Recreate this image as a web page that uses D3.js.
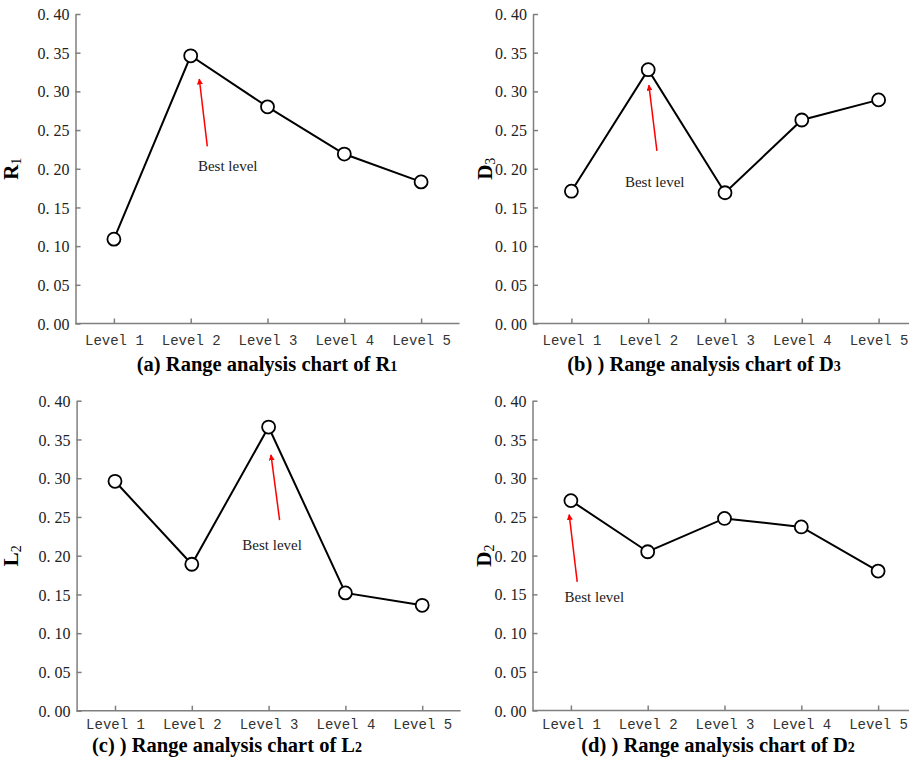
<!DOCTYPE html>
<html>
<head>
<meta charset="utf-8">
<script src="https://cdn.jsdelivr.net/npm/d3@7"></script>
<style>
  body { margin: 0; background: #fff; }
  svg { display: block; }
</style>
</head>
<body>
<svg id="chart" width="909" height="761"></svg>
<script>
// Data
const levels = ["Level 1", "Level 2", "Level 3", "Level 4", "Level 5"];
const yTicks = [0, 0.05, 0.10, 0.15, 0.20, 0.25, 0.30, 0.35, 0.40];
const r1Values = [0.109, 0.346, 0.280, 0.219, 0.183];
const d3Values = [0.171, 0.328, 0.169, 0.263, 0.289];
const l2Values = [0.296, 0.189, 0.366, 0.152, 0.136];
const d2Values = [0.271, 0.205, 0.248, 0.237, 0.180];

// best level annotation: arrow tip/tail and label in data units (level, value)
const bestLevel = [
  { level: "Level 2", tip: [8.6, 0.316], tail: [16.6, 0.229], label: [37, 0.197] },
  { level: "Level 2", tip: [0.7, 0.308], tail: [8.7, 0.223], label: [6.5, 0.176] },
  { level: "Level 3", tip: [2.4, 0.330], tail: [11, 0.246], label: [3.5, 0.207] },
  { level: "Level 1", tip: [-1.7, 0.253], tail: [6.3, 0.166], label: [23.5, 0.140] }
];

// panel layout (pixel boxes)
const panels = [
  { values: r1Values, ylab: "R", sub: "1", tag: "(a) Range analysis chart of ", tsub: "1", tx: 267, ty: 371, ly: 21.5,
    x0: 75.5, x1: 459.5, y0: 14, y1: 323.5, labX: 18 },
  { values: d3Values, ylab: "D", sub: "3", tag: "(b) ) Range analysis chart of ", tsub: "3", tx: 704, ty: 371, ly: 21.5,
    x0: 533, x1: 917, y0: 14, y1: 323.5, labX: 492 },
  { values: l2Values, ylab: "L", sub: "2", tag: "(c) ) Range analysis chart of ", tsub: "2", tx: 227, ty: 752, ly: 18,
    x0: 76.6, x1: 460.6, y0: 400.7, y1: 710.7, labX: 18 },
  { values: d2Values, ylab: "D", sub: "2", tag: "(d) ) Range analysis chart of ", tsub: "2", tx: 718, ty: 752, ly: 18,
    x0: 532.5, x1: 916.5, y0: 400.7, y1: 710.5, labX: 491 }
];

const svg = d3.select("#chart");
const axisColor = "#7f7f7f";

svg.append("defs").append("marker")
  .attr("id", "redhead")
  .attr("viewBox", "0 -5 10 10")
  .attr("refX", 9)
  .attr("refY", 0)
  .attr("markerWidth", 4)
  .attr("markerHeight", 4)
  .attr("orient", "auto")
  .append("path")
  .attr("d", "M0,-5L10,0L0,5Z")
  .attr("fill", "#ff0000");

panels.forEach(function(p, i) {
  const x = d3.scalePoint().domain(levels).range([p.x0, p.x1]).padding(0.5);
  const y = d3.scaleLinear().domain([0, 0.4]).range([p.y1, p.y0]);
  const g = svg.append("g");

  // x axis, ticks pointing inward
  const xAxis = g.append("g")
    .attr("transform", `translate(0,${p.y1})`)
    .call(d3.axisBottom(x).tickSizeInner(-5).tickSizeOuter(0));
  xAxis.select(".domain").attr("d", `M${p.x0},0H${p.x1}`);
  xAxis.selectAll("line, path").attr("stroke", axisColor).attr("stroke-width", 1.5);
  xAxis.selectAll("text")
    .attr("font-family", "'Liberation Mono', monospace")
    .attr("font-size", 14)
    .attr("fill", "#333")
    .attr("dy", null)
    .attr("y", p.ly);

  // y axis, ticks pointing inward
  const yAxis = g.append("g")
    .attr("transform", `translate(${p.x0},0)`)
    .call(d3.axisLeft(y).tickValues(yTicks).tickSizeInner(-5).tickSizeOuter(0).tickFormat(() => ""));
  yAxis.selectAll("line, path").attr("stroke", axisColor).attr("stroke-width", 1.5);
  yAxis.selectAll(".tick").each(function(d) {
    const s = d3.format(".2f")(d).split(".");
    const t = d3.select(this).select("text")
      .attr("x", -6)
      .attr("dy", "0.35em")
      .attr("font-family", "'Liberation Serif', serif")
      .attr("font-size", 16)
      .attr("fill", "#222");
    t.append("tspan").text(s[0] + ".");
    t.append("tspan").attr("dx", 4).text(s[1]);
  });

  // y axis label
  const yl = g.append("text")
    .attr("transform", `translate(${p.labX},${(p.y0 + p.y1) / 2}) rotate(-90)`)
    .attr("text-anchor", "middle")
    .attr("font-family", "'Liberation Serif', serif")
    .attr("font-weight", "bold")
    .attr("font-size", 21)
    .attr("fill", "#000");
  yl.append("tspan").text(p.ylab);
  yl.append("tspan").attr("font-size", 14).attr("font-weight", "normal").attr("dy", 3).text(p.sub);

  // series line and markers
  const line = d3.line().x((d, j) => x(levels[j])).y(d => y(d));
  g.append("path")
    .datum(p.values)
    .attr("d", line)
    .attr("fill", "none")
    .attr("stroke", "#000")
    .attr("stroke-width", 2);
  g.selectAll("circle")
    .data(p.values)
    .enter()
    .append("circle")
    .attr("cx", (d, j) => x(levels[j]))
    .attr("cy", d => y(d))
    .attr("r", 6.5)
    .attr("fill", "#fff")
    .attr("stroke", "#000")
    .attr("stroke-width", 1.8);

  // best level annotation
  const a = bestLevel[i];
  const bx = x(a.level);
  g.append("line")
    .attr("x1", bx + a.tail[0]).attr("y1", y(a.tail[1]))
    .attr("x2", bx + a.tip[0]).attr("y2", y(a.tip[1]))
    .attr("stroke", "#ff0000")
    .attr("stroke-width", 1.5)
    .attr("marker-end", "url(#redhead)");
  g.append("text")
    .attr("x", bx + a.label[0])
    .attr("y", y(a.label[1]))
    .attr("text-anchor", "middle")
    .attr("font-family", "'Liberation Serif', serif")
    .attr("font-size", 15)
    .attr("fill", "#222")
    .text("Best level");

  // panel title
  const tt = g.append("text")
    .attr("x", p.tx)
    .attr("y", p.ty)
    .attr("text-anchor", "middle")
    .attr("font-family", "'Liberation Serif', serif")
    .attr("font-weight", "bold")
    .attr("font-size", 20.5)
    .attr("fill", "#000");
  tt.append("tspan").text(p.tag + p.ylab);
  tt.append("tspan").attr("font-size", 14).text(p.tsub);
});
</script>
</body>
</html>
